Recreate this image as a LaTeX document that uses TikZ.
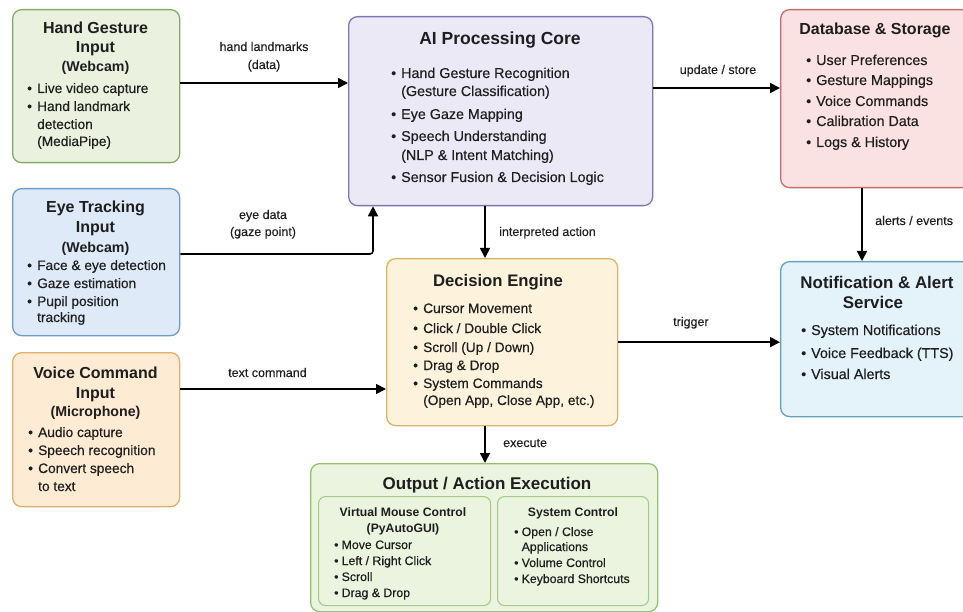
\documentclass[tikz,border=0pt]{standalone}
\usepackage{fontspec}
\setmainfont{Liberation Sans}
\newfontfamily\medfont{Liberation Sans}[FakeBold=0.35]
\newfontfamily\lblfont{Liberation Sans}[FakeBold=0.2]
\usetikzlibrary{arrows.meta}

\definecolor{ink}{HTML}{1E1E1E}
\definecolor{greenF}{HTML}{EAF2DF}\definecolor{greenD}{HTML}{86A96A}
\definecolor{blueF}{HTML}{DEEAF7}\definecolor{blueD}{HTML}{6C9CCF}
\definecolor{orangeF}{HTML}{FDEBD4}\definecolor{orangeD}{HTML}{E2AF6B}
\definecolor{purpleF}{HTML}{ECE9F7}\definecolor{purpleD}{HTML}{7D75B3}
\definecolor{pinkF}{HTML}{FBE2E2}\definecolor{pinkD}{HTML}{C76C6C}
\definecolor{cyanF}{HTML}{E3F3F9}\definecolor{cyanD}{HTML}{63A2BA}
\definecolor{yellowF}{HTML}{FDF3DD}\definecolor{yellowD}{HTML}{D9B466}
\definecolor{outF}{HTML}{EBF4DF}\definecolor{outD}{HTML}{93C26F}
\definecolor{innerD}{HTML}{A6CB88}

\tikzset{
  box/.style={draw, rounded corners=9pt, line width=1.3pt, inner sep=0pt, anchor=north west},
  ttl/.style={font=\fontsize{16}{19}\selectfont\bfseries, text=ink, inner sep=0pt, anchor=base},
  bigttl/.style={ttl, font=\fontsize{17.5}{20}\selectfont\bfseries},
  subttl/.style={ttl, font=\fontsize{14.2}{17}\selectfont\bfseries},
  smallttl/.style={ttl, font=\fontsize{12.2}{15}\selectfont\bfseries},
  itm/.style={font=\medfont\fontsize{13.7}{16}\selectfont, text=ink, inner sep=0pt, anchor=base west},
  bitm/.style={itm, font=\medfont\fontsize{14.3}{17}\selectfont},
  sitm/.style={itm, font=\medfont\fontsize{12.3}{15}\selectfont},
  lbl/.style={font=\lblfont\fontsize{12.5}{15}\selectfont, text=ink, inner sep=0pt, anchor=base},
  lblw/.style={lbl, anchor=base west},
  conn/.style={line width=1.6pt, draw=black, rounded corners=3pt, -{Triangle[length=10pt,width=10pt]}},
}
% bullet item and continuation line; the optional argument picks the text style
\newcommand\bul[5][itm]{\node[#1] (#2) at (#3,#4) {\makebox[10pt][l]{\textbullet}#5};}
\newcommand\cont[5][itm]{\node[#1] (#2) at (#3,#4) {\hspace*{10pt}#5};}
\newcommand\sbul[4]{\node[sitm] (#1) at (#2,#3) {\makebox[7.5pt][l]{\textbullet}#4};}
\newcommand\scont[4]{\node[sitm] (#1) at (#2,#3) {\hspace*{7.5pt}#4};}

\begin{document}
\begin{tikzpicture}[x=1pt,y=-1pt]
\useasboundingbox (0,0) rectangle (963,612);

% ---------- boxes ----------
\node[box, fill=greenF, draw=greenD, minimum width=167pt, minimum height=153pt] (hand) at (12,9) {};
\node[box, fill=blueF, draw=blueD, minimum width=167pt, minimum height=147pt] (eye) at (12,188) {};
\node[box, fill=orangeF, draw=orangeD, minimum width=167pt, minimum height=154pt] (voice) at (12,352) {};
\node[box, fill=purpleF, draw=purpleD, minimum width=304pt, minimum height=189pt] (ai) at (348,16) {};
\node[box, fill=pinkF, draw=pinkD, minimum width=190pt, minimum height=178pt] (db) at (780,9) {};
\node[box, fill=cyanF, draw=cyanD, minimum width=190pt, minimum height=155pt] (notif) at (780,261) {};
\node[box, fill=yellowF, draw=yellowD, minimum width=231pt, minimum height=167pt] (dec) at (386,258) {};
\node[box, fill=outF, draw=outD, minimum width=347pt, minimum height=148pt] (out) at (310,463) {};
\node[box, fill=outF, draw=innerD, line width=1.1pt, rounded corners=7pt, minimum width=172pt, minimum height=109pt] (mouse) at (318,496) {};
\node[box, fill=outF, draw=innerD, line width=1.1pt, rounded corners=7pt, minimum width=151pt, minimum height=109pt] (sys) at (497,496) {};

% ---------- Hand Gesture Input ----------
\node[ttl] (hand-t1) at (95.5,34) {Hand Gesture};
\node[ttl] (hand-t2) at (95.5,53) {Input};
\node[subttl] (hand-t3) at (95.5,72) {(Webcam)};
\bul{hand-a}{27}{93}{Live video capture}
\bul{hand-b}{27}{111}{Hand landmark}
\cont{hand-c}{27}{129}{detection}
\cont{hand-d}{27}{146}{(MediaPipe)}

% ---------- Eye Tracking Input ----------
\node[ttl] (eye-t1) at (95.5,213) {Eye Tracking};
\node[ttl] (eye-t2) at (95.5,233) {Input};
\node[subttl] (eye-t3) at (95.5,252) {(Webcam)};
\bul{eye-a}{27}{270}{Face \& eye detection}
\bul{eye-b}{27}{288}{Gaze estimation}
\bul{eye-c}{27}{306}{Pupil position}
\cont{eye-d}{27}{322}{tracking}

% ---------- Voice Command Input ----------
\node[ttl] (voice-t1) at (95.5,378) {Voice Command};
\node[ttl] (voice-t2) at (95.5,398) {Input};
\node[subttl] (voice-t3) at (95.5,416) {(Microphone)};
\bul{voice-a}{28}{437}{Audio capture}
\bul{voice-b}{28}{455}{Speech recognition}
\bul{voice-c}{28}{473}{Convert speech}
\cont{voice-d}{28}{491}{to text}

% ---------- AI Processing Core ----------
\node[bigttl] (ai-t) at (500,45) {AI Processing Core};
\bul[bitm]{ai-a}{391}{78}{Hand Gesture Recognition}
\cont[bitm]{ai-b}{391}{96}{(Gesture Classification)}
\bul[bitm]{ai-c}{391}{119}{Eye Gaze Mapping}
\bul[bitm]{ai-d}{391}{141}{Speech Understanding}
\cont[bitm]{ai-e}{391}{160}{(NLP \& Intent Matching)}
\bul[bitm]{ai-f}{391}{182}{Sensor Fusion \& Decision Logic}

% ---------- Database & Storage ----------
\node[ttl] (db-t) at (875,35) {Database \& Storage};
\bul[bitm]{db-a}{806}{65}{User Preferences}
\bul[bitm]{db-b}{806}{85}{Gesture Mappings}
\bul[bitm]{db-c}{806}{106}{Voice Commands}
\bul[bitm]{db-d}{806}{126}{Calibration Data}
\bul[bitm]{db-e}{806}{147}{Logs \& History}

% ---------- Notification & Alert Service ----------
\node[ttl, font=\fontsize{16.9}{20}\selectfont\bfseries] (notif-t1) at (877,288) {Notification \& Alert};
\node[ttl, font=\fontsize{16.9}{20}\selectfont\bfseries] (notif-t2) at (873,308) {Service};
\bul[bitm]{notif-a}{801}{335}{System Notifications}
\bul[bitm]{notif-b}{801}{358}{Voice Feedback (TTS)}
\bul[bitm]{notif-c}{801}{379}{Visual Alerts}

% ---------- Decision Engine ----------
\node[ttl, font=\fontsize{16.7}{20}\selectfont\bfseries] (dec-t) at (498,286) {Decision Engine};
\bul{dec-a}{413}{313}{Cursor Movement}
\bul{dec-b}{413}{333}{Click / Double Click}
\bul{dec-c}{413}{352}{Scroll (Up / Down)}
\bul{dec-d}{413}{370}{Drag \& Drop}
\bul{dec-e}{413}{388}{System Commands}
\cont{dec-f}{413}{405}{(Open App, Close App, etc.)}

% ---------- Output / Action Execution ----------
\node[ttl, font=\fontsize{17}{20}\selectfont\bfseries] (out-t) at (487,489) {Output / Action Execution};
\node[smallttl] (mouse-t1) at (403,516) {Virtual Mouse Control};
\node[smallttl] (mouse-t2) at (403,532) {(PyAutoGUI)};
\sbul{mouse-a}{334}{549}{Move Cursor}
\sbul{mouse-b}{334}{565}{Left / Right Click}
\sbul{mouse-c}{334}{581}{Scroll}
\sbul{mouse-d}{334}{597}{Drag \& Drop}
\node[smallttl] (sys-t) at (573,516) {System Control};
\sbul{sys-a}{514}{536}{Open / Close}
\scont{sys-b}{514}{551}{Applications}
\sbul{sys-c}{514}{567}{Volume Control}
\sbul{sys-d}{514}{583}{Keyboard Shortcuts}

% ---------- connector guides ----------
\coordinate (colA) at (485,0);
\coordinate (colB) at (862,0);
\coordinate (rowHand) at (0,83);
\coordinate (rowEye) at (0,254);
\coordinate (rowStore) at (0,88);
\coordinate (rowText) at (0,389);
\coordinate (eyeBend) at (373,254);

% ---------- connectors ----------
\draw[conn] (hand.east |- rowHand) -- (ai.west |- rowHand);
\draw[conn] (eye.east |- rowEye) -- (eyeBend) -- (eyeBend |- ai.south);
\draw[conn] (ai.south -| colA) -- (dec.north -| colA);
\draw[conn] (ai.east |- rowStore) -- (db.west |- rowStore);
\draw[conn] (db.south -| colB) -- (notif.north -| colB);
\draw[conn] (dec.east) -- (dec.east -| notif.west);
\draw[conn] (voice.east |- rowText) -- (dec.west |- rowText);
\draw[conn] (dec.south -| colA) -- (out.north -| colA);

% ---------- connector labels ----------
\node[lbl] (l-hand1) at (264,51) {hand landmarks};
\node[lbl] (l-hand2) at (264,69) {(data)};
\node[lbl] (l-eye1) at (263,219) {eye data};
\node[lbl] (l-eye2) at (263,236) {(gaze point)};
\node[lblw] (l-ia) at (499,236) {interpreted action};
\node[lbl] (l-store) at (718,74) {update / store};
\node[lblw] (l-alert) at (875,225) {alerts / events};
\node[lblw] (l-trig) at (673,326) {trigger};
\node[lblw] (l-text) at (228,377) {text command};
\node[lblw] (l-exec) at (503,447) {execute};
\end{tikzpicture}
\end{document}
